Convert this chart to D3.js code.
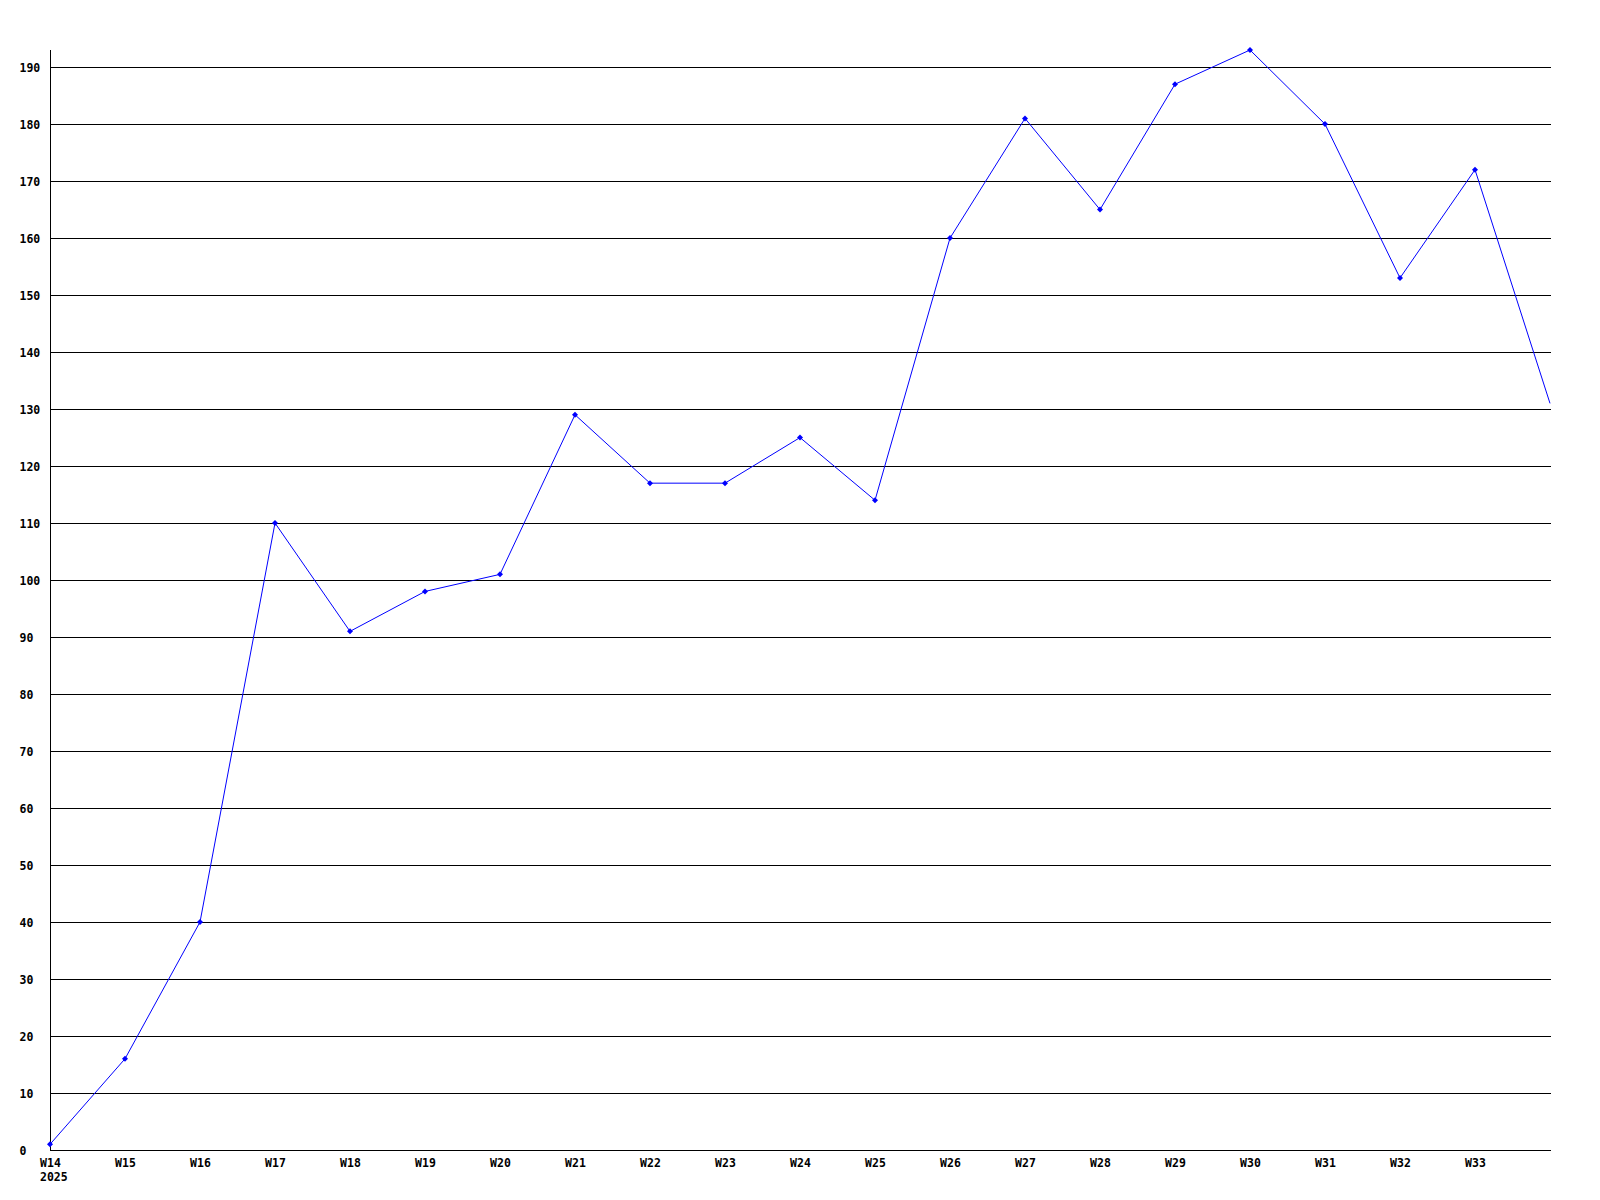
<!DOCTYPE html>
<html>
<head>
<meta charset="utf-8">
<script src="https://cdn.jsdelivr.net/npm/d3@7"></script>
<style>
  html, body { margin: 0; padding: 0; background: #fff; }
  svg { display: block; }
  text { font-family: "DejaVu Sans Mono", "Liberation Mono", monospace; font-weight: bold; font-size: 11.5px; fill: #000; }
</style>
</head>
<body>
<script>
const weeks = ["W14","W15","W16","W17","W18","W19","W20","W21","W22","W23","W24","W25","W26","W27","W28","W29","W30","W31","W32","W33","W34"];
const values = [1,16,40,110,91,98,101,129,117,117,125,114,160,181,165,187,193,180,153,172,131];
const yTicks = [0,10,20,30,40,50,60,70,80,90,100,110,120,130,140,150,160,170,180,190];
const labeledWeeks = weeks.slice(0, 20);
const yearLabel = "2025";

const W = 1600, H = 1200;
const mLeft = 50, mRight = 1550, mTop = 50, mBottom = 1150;

const svg = d3.select("body").append("svg").attr("width", W).attr("height", H);

const x = d3.scalePoint().domain(weeks).range([mLeft, mRight]);
const y = d3.scaleLinear().domain([0, 193]).range([mBottom, mTop]);

// gridlines
svg.append("g").selectAll("line").data(yTicks.filter(d => d > 0)).join("line")
  .attr("x1", mLeft).attr("x2", mRight + 1)
  .attr("y1", d => Math.round(y(d)) + 0.5).attr("y2", d => Math.round(y(d)) + 0.5)
  .attr("stroke", "#000").attr("stroke-width", 1).attr("shape-rendering", "crispEdges");

// y axis (labels left-aligned)
const yAxis = d3.axisLeft(y).tickValues(yTicks).tickSize(0).tickPadding(31);
const gy = svg.append("g").attr("transform", `translate(${mLeft + 0.5},0)`).call(yAxis);
gy.select(".domain").remove();
gy.selectAll("text").attr("dy", "0.35em").attr("text-anchor", "start");
svg.append("line").attr("x1", mLeft + 0.5).attr("x2", mLeft + 0.5).attr("y1", mTop).attr("y2", mBottom)
  .attr("stroke", "#000").attr("shape-rendering", "crispEdges");

// x axis
const xAxis = d3.axisBottom(x).tickValues(labeledWeeks).tickSize(0).tickPadding(8);
const gx = svg.append("g").attr("transform", `translate(0,${mBottom + 0.5})`).call(xAxis);
gx.select(".domain").remove();
svg.append("line").attr("x1", mLeft).attr("x2", mRight + 1).attr("y1", mBottom + 0.5).attr("y2", mBottom + 0.5)
  .attr("stroke", "#000").attr("shape-rendering", "crispEdges");
svg.append("text").attr("x", x(weeks[0]) - 10).attr("y", mBottom + 31).text(yearLabel);

// line
const line = d3.line().x((d, i) => x(weeks[i])).y(d => y(d));
svg.append("path").datum(values).attr("d", line)
  .attr("fill", "none").attr("stroke", "#0000ff").attr("stroke-width", 1);

// markers
svg.append("g").selectAll("path").data(values.slice(0, 20)).join("path")
  .attr("d", (d, i) => {
    const cx = x(weeks[i]), cy = y(d), r = 3;
    return `M${cx},${cy - r}L${cx + r},${cy}L${cx},${cy + r}L${cx - r},${cy}Z`;
  })
  .attr("fill", "#0000ff");
</script>
</body>
</html>
